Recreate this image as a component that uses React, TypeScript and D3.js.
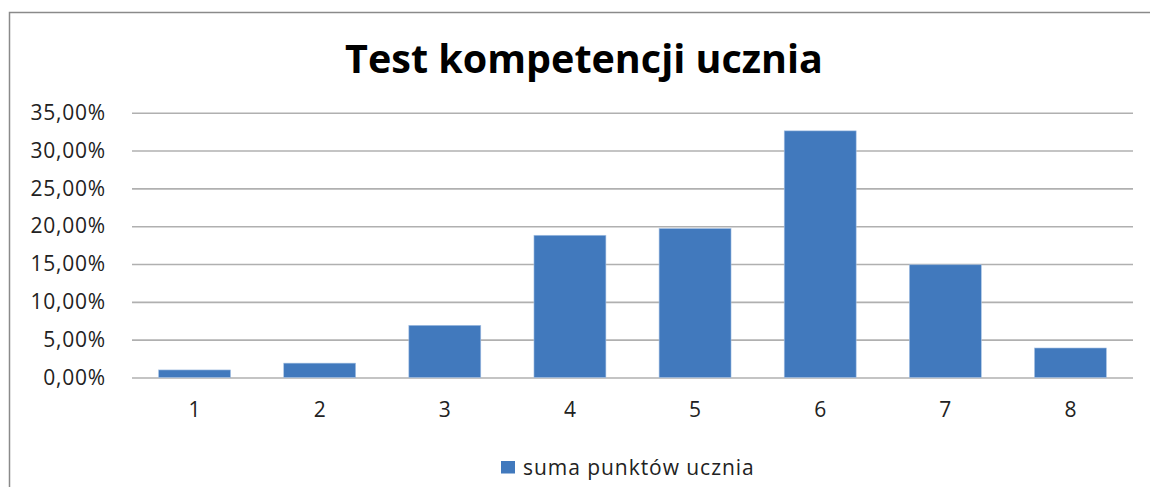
import { useEffect, useRef } from 'react';
import * as d3 from 'd3';

const categories = ['1', '2', '3', '4', '5', '6', '7', '8'];
const values = [1.0, 1.9, 6.9, 18.8, 19.7, 32.6, 14.9, 3.9];
const yTicks = [0, 5, 10, 15, 20, 25, 30, 35];
const title = 'Test kompetencji ucznia';
const seriesName = 'suma punktów ucznia';

const W = 1150;
const H = 487;
const barColor = '#4179bd';
const font = '"Open Sans", "Noto Sans", sans-serif';

const App = () => {
  const svgRef = useRef<SVGSVGElement>(null);

  useEffect(() => {
    const svg = d3.select(svgRef.current);
    svg.selectAll('*').remove();

    const margin = { top: 112.7, right: 17, bottom: 109.5, left: 132 };
    const innerW = W - margin.left - margin.right;
    const innerH = H - margin.top - margin.bottom;

    // outer frame of the chart area (right and bottom edges fall off the picture)
    svg.append('rect')
      .attr('x', 9.5)
      .attr('y', 12.5)
      .attr('width', W + 20)
      .attr('height', H + 20)
      .attr('fill', 'white')
      .attr('stroke', '#8a8a8a')
      .attr('stroke-width', 1.5);

    // title
    svg.append('text')
      .attr('x', 584)
      .attr('y', 72.5)
      .attr('text-anchor', 'middle')
      .style('font-family', font)
      .style('font-size', '39.5px')
      .style('font-weight', 'bold')
      .attr('fill', '#000')
      .text(title);

    const g = svg.append('g')
      .attr('transform', `translate(${margin.left},${margin.top})`);

    const x = d3.scaleBand()
      .domain(categories)
      .range([0, innerW])
      .paddingInner(0.425)
      .paddingOuter(0.2125);

    const y = d3.scaleLinear()
      .domain([0, 35])
      .range([innerH, 0]);

    // gridlines + y labels
    const yAxis = g.append('g')
      .call(d3.axisLeft(y).tickValues(yTicks).tickSize(-innerW).tickPadding(26)
        .tickFormat(d => (d as number).toFixed(2).replace('.', ',') + '%'));
    yAxis.select('.domain').remove();
    yAxis.selectAll('line')
      .attr('stroke', '#b0b0b0')
      .attr('stroke-width', 1.6);
    yAxis.selectAll('text')
      .style('font-family', font)
      .style('font-size', '21px')
      .style('letter-spacing', '0.8px')
      .attr('fill', '#222')
      .attr('dy', '0.32em');

    // bars
    g.selectAll('rect.bar')
      .data(values)
      .join('rect')
      .attr('class', 'bar')
      .attr('x', (_, i) => x(categories[i])!)
      .attr('y', d => y(d))
      .attr('width', x.bandwidth())
      .attr('height', d => innerH - y(d))
      .attr('fill', barColor)
      .attr('stroke', '#a9c3e4')
      .attr('stroke-width', 0.6);

    // x labels
    const xAxis = g.append('g')
      .attr('transform', `translate(0,${innerH})`)
      .call(d3.axisBottom(x).tickSize(0).tickPadding(24.5));
    xAxis.select('.domain').remove();
    xAxis.selectAll('text')
      .style('font-family', font)
      .style('font-size', '21px')
      .attr('fill', '#222');

    // legend
    const legend = svg.append('g').attr('transform', 'translate(501,461)');
    legend.append('rect')
      .attr('width', 14)
      .attr('height', 12.5)
      .attr('fill', barColor);
    legend.append('text')
      .attr('x', 22)
      .attr('y', 14)
      .style('font-family', font)
      .style('font-size', '21px')
      .style('letter-spacing', '0.95px')
      .attr('fill', '#222')
      .text(seriesName);
  }, []);

  return (
    <svg
      ref={svgRef}
      width={W}
      height={H}
      style={{ position: 'absolute', left: 0, top: 0, display: 'block', background: 'white' }}
    />
  );
};

export default App;
